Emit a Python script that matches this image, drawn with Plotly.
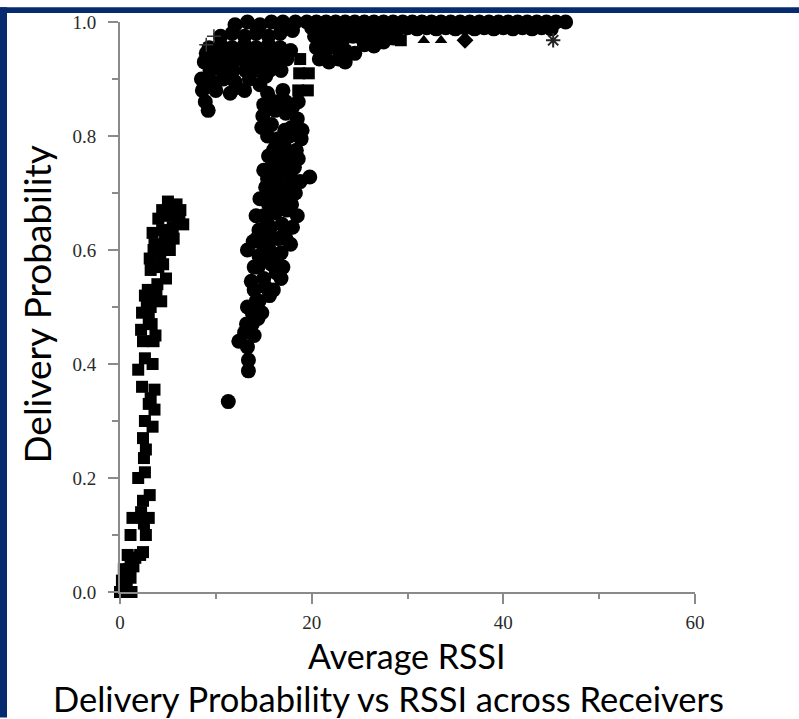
import plotly.graph_objects as go

# ---------------- data ----------------
# low-RSSI receivers (square markers)
sq_x = [0.0, 0.4, 0.8, 1.2, 0.2, 0.7, 1.1, 0.4, 0.9, 1.4, 1.1, 1.6, 2.1, 0.8, 2.4,
        1.1, 2.7, 2.5, 1.3, 2.2, 3.0, 2.4, 3.1, 1.9, 2.6, 2.5, 2.7, 2.4,
        2.6, 3.4, 3.0, 3.6, 2.3, 3.6, 3.2, 1.9, 2.6, 3.4, 2.4, 3.5, 2.2, 3.3,
        2.3, 3.2, 4.3, 2.6, 2.9, 3.9, 4.8, 3.2, 4.5, 3.1, 4.2, 5.2, 3.6, 4.7,
        3.4, 4.4, 5.5, 6.6, 4.0, 5.0, 6.0, 4.4, 5.4, 6.3, 5.0, 5.9,
        3.0, 3.8, 4.0, 3.5, 4.6, 5.6, 6.2, 2.8, 3.7,
        18.6, 19.6, 18.7, 19.7, 18.8, 27.8, 29.3]
sq_y = [0.0, 0.0, 0.0, 0.0, 0.02, 0.02, 0.025, 0.04, 0.04, 0.045, 0.06, 0.06, 0.065, 0.065, 0.07,
        0.10, 0.10, 0.12, 0.13, 0.14, 0.13, 0.16, 0.17, 0.20, 0.21, 0.235, 0.25, 0.27,
        0.30, 0.29, 0.33, 0.32, 0.36, 0.355, 0.34, 0.39, 0.41, 0.40, 0.44, 0.44, 0.46, 0.47,
        0.49, 0.50, 0.51, 0.52, 0.53, 0.54, 0.55, 0.565, 0.575, 0.585, 0.59, 0.60, 0.61, 0.62,
        0.63, 0.635, 0.64, 0.645, 0.655, 0.66, 0.66, 0.67, 0.675, 0.67, 0.685, 0.68,
        0.48, 0.52, 0.57, 0.60, 0.60, 0.62, 0.65, 0.51, 0.45,
        0.88, 0.88, 0.91, 0.91, 0.935, 0.975, 0.968]

# mid/high-RSSI receivers (circle markers)
ci_x = [11.3, 13.4, 13.4,
        12.4, 13.3, 13.0, 14.0, 13.2, 14.4, 13.8,
        13.3, 14.5, 15.6, 14.0, 15.2, 13.7, 15.0, 16.3, 14.4, 15.8, 17.0,
        13.3, 14.5, 15.6, 16.8, 17.8, 13.9, 15.2, 16.5,
        14.5, 15.7, 16.9, 18.0, 15.0, 16.2, 17.4, 18.5, 15.5, 16.8, 17.9,
        14.6, 15.8, 17.0, 18.3, 15.2, 16.5, 17.7,
        15.4, 16.6, 17.9, 19.8, 15.8, 17.0, 18.2, 16.2, 17.4, 18.6,
        16.0, 17.2, 18.4, 16.5, 17.7, 18.9,
        14.8, 15.8, 17.9, 18.5, 14.9, 16.2, 17.3,
        15.0, 16.2, 17.3, 15.4, 17.0,
        14.8, 16.0, 17.2, 15.3, 16.5, 14.2, 16.0, 14.0, 15.6,
        13.8, 14.8, 15.0, 16.2, 17.3, 14.2, 17.6, 16.0, 18.8, 15.0, 16.4, 17.5,
        15.4, 16.2, 17.2, 19.0, 15.5, 18.0, 18.6, 14.3, 16.8,
        9.2, 8.9, 8.6,
        8.5, 9.6, 10.8, 12.0, 13.5, 14.6, 10.0, 11.5, 13.0,
        8.8, 10.0, 11.2, 12.5, 13.8, 15.0, 16.2, 17.4,
        9.3, 10.5, 11.7, 13.0, 14.2, 15.5, 16.7, 17.8,
        10.5, 11.7, 13.0, 14.2, 15.5, 16.7, 18.0,
        12.0, 13.3, 14.6, 15.8, 17.0, 18.3, 19.5,
        9.4, 10.6, 11.8, 13.1, 14.4, 15.6, 16.8,
        9.0, 10.2, 11.4, 12.6, 13.8, 15.1, 16.3, 17.4, 12.2, 15.2,
        20.3, 21.3, 22.3, 23.3, 24.3, 25.3, 26.3, 27.2, 28.3,
        20.5, 21.5, 22.5, 23.5, 24.5, 25.5, 26.5, 27.5, 28.5,
        20.8, 21.8, 22.8, 23.5,
        20.5, 21.5, 22.5, 23.5, 24.5, 25.5, 26.5, 27.5, 28.5, 29.5, 30.5, 31.5, 32.5,
        33.5, 34.5, 35.5, 36.5, 37.5, 38.5, 39.5, 40.5, 41.5, 42.5, 43.5, 44.5, 45.5, 46.5,
        20.0, 21.0, 22.0, 23.0, 24.0, 25.0, 26.0, 27.0, 28.0, 29.0, 30.0, 31.0, 32.0,
        33.0, 34.0, 35.0, 36.0, 37.0, 38.0, 39.0, 40.0, 41.0, 42.0, 43.0, 44.0, 45.0, 46.0]
ci_y = [0.334, 0.388, 0.407,
        0.44, 0.43, 0.455, 0.45, 0.47, 0.48, 0.49,
        0.50, 0.51, 0.52, 0.53, 0.535, 0.545, 0.55, 0.56, 0.57, 0.575, 0.57,
        0.60, 0.59, 0.60, 0.595, 0.61, 0.615, 0.62, 0.62,
        0.635, 0.64, 0.645, 0.64, 0.66, 0.665, 0.67, 0.66, 0.68, 0.685, 0.68,
        0.69, 0.70, 0.695, 0.70, 0.71, 0.715, 0.71,
        0.725, 0.73, 0.725, 0.728, 0.745, 0.75, 0.745, 0.76, 0.765, 0.76,
        0.775, 0.78, 0.775, 0.795, 0.80, 0.795,
        0.815, 0.82, 0.815, 0.83, 0.835, 0.845, 0.84,
        0.855, 0.86, 0.86, 0.875, 0.88,
        0.58, 0.58, 0.63, 0.65, 0.70, 0.51, 0.53, 0.57, 0.62,
        0.47, 0.49, 0.60, 0.59, 0.62, 0.66, 0.69, 0.685, 0.72, 0.74, 0.74, 0.735,
        0.80, 0.78, 0.81, 0.81, 0.765, 0.85, 0.86, 0.62, 0.55,
        0.845, 0.86, 0.88,
        0.90, 0.895, 0.90, 0.895, 0.90, 0.89, 0.88, 0.875, 0.88,
        0.93, 0.935, 0.93, 0.935, 0.93, 0.935, 0.93, 0.935,
        0.955, 0.96, 0.955, 0.96, 0.955, 0.96, 0.955, 0.95,
        0.975, 0.98, 0.975, 0.98, 0.975, 0.98, 0.985,
        0.995, 1.0, 0.995, 1.0, 1.0, 1.0, 1.0,
        0.915, 0.915, 0.915, 0.915, 0.915, 0.915, 0.915,
        0.945, 0.945, 0.945, 0.945, 0.945, 0.945, 0.945, 0.945, 0.885, 0.905,
        0.975, 0.97, 0.975, 0.97, 0.975, 0.97, 0.975, 0.98, 0.985,
        0.955, 0.95, 0.955, 0.95, 0.945, 0.96, 0.958, 0.965, 0.972,
        0.935, 0.93, 0.935, 0.93,
        1.0, 1.0, 1.0, 1.0, 1.0, 1.0, 1.0, 1.0, 1.0, 1.0, 1.0, 1.0, 1.0,
        1.0, 1.0, 1.0, 1.0, 1.0, 1.0, 1.0, 1.0, 1.0, 1.0, 1.0, 1.0, 1.0, 1.0,
        0.99, 0.988, 0.99, 0.988, 0.99, 0.988, 0.99, 0.988, 0.99, 0.988, 0.99, 0.988, 0.99,
        0.988, 0.99, 0.988, 0.99, 0.988, 0.99, 0.988, 0.99, 0.988, 0.99, 0.988, 0.99, 0.988]

tri_x = [31.7, 33.5]
tri_y = [0.968, 0.968]
dia_x = [36.0]
dia_y = [0.968]
ast_x = [45.2]
ast_y = [0.968]
plus_x = [9.0, 9.8]
plus_y = [0.96, 0.975]

x_ticks = [0, 20, 40, 60]
x_tick_text = ["0", "20", "40", "60"]
y_ticks = [0.0, 0.2, 0.4, 0.6, 0.8, 1.0]
y_tick_text = ["0.0", "0.2", "0.4", "0.6", "0.8", "1.0"]

x_label = "Average RSSI"
y_label = "Delivery Probability"
title_text = "Delivery Probability vs RSSI across Receivers"

# ---------------- figure ----------------
W, H = 799, 719
L, R, T, B = 120, 104, 15, 127
PW, PH = W - L - R, H - T - B


def px(xp):
    return (xp - L) / PW


def py(yp):
    return (H - B - yp) / PH


NAVY = "#062b6f"
fig = go.Figure()
common = dict(mode="markers", cliponaxis=False, showlegend=False, hoverinfo="skip")
fig.add_trace(go.Scatter(x=sq_x, y=sq_y, marker=dict(symbol="square", size=12, color="black"), **common))
fig.add_trace(go.Scatter(x=ci_x, y=ci_y, marker=dict(symbol="circle", size=15, color="black"), **common))
fig.add_trace(go.Scatter(x=tri_x, y=tri_y, marker=dict(symbol="triangle-up", size=11, color="black"), **common))
fig.add_trace(go.Scatter(x=dia_x, y=dia_y, marker=dict(symbol="diamond", size=13, color="black"), **common))
fig.add_trace(go.Scatter(x=ast_x, y=ast_y, marker=dict(symbol="asterisk-open", size=12, color="#222",
                                                      line=dict(color="#222", width=2)), **common))
fig.add_trace(go.Scatter(x=plus_x, y=plus_y, marker=dict(symbol="cross-thin-open", size=10, color="#333",
                                                        line=dict(color="#333", width=1.5)), **common))

tickfont = dict(family="Liberation Serif", size=19, color="#2a2a2a")
axis_common = dict(showgrid=False, zeroline=False, showline=True, linecolor="#8a8a8a", linewidth=2,
                   ticks="outside", ticklen=10, tickwidth=1.5, tickcolor="#8a8a8a", tickfont=tickfont)
fig.update_xaxes(range=[0, 60], tickvals=x_ticks, ticktext=x_tick_text, ticklabelstandoff=2,
                 minor=dict(dtick=10, ticklen=5, ticks="outside", tickcolor="#8a8a8a", tickwidth=1.5),
                 **axis_common)
fig.update_yaxes(range=[0, 1], tickvals=y_ticks, ticktext=y_tick_text, ticklabelstandoff=8,
                 minor=dict(dtick=0.1, ticklen=6, ticks="outside", tickcolor="#8a8a8a", tickwidth=1.5),
                 **axis_common)

fig.add_annotation(text=x_label, xref="paper", yref="paper", x=px(406), y=py(656),
                   xanchor="center", yanchor="middle", showarrow=False,
                   font=dict(family="Lato", size=34, color="black"))
fig.add_annotation(text=title_text, xref="paper", yref="paper", x=px(388), y=py(700),
                   xanchor="center", yanchor="middle", showarrow=False,
                   font=dict(family="Lato", size=34.5, color="black"))
fig.add_annotation(text=y_label, xref="paper", yref="paper", x=px(37), y=py(301), textangle=-90,
                   xanchor="center", yanchor="middle", showarrow=False,
                   font=dict(family="Lato", size=37, color="black"))

# slide frame (navy bars top and left)
fig.add_shape(type="rect", xref="paper", yref="paper", x0=px(0), x1=px(W), y0=py(6), y1=py(0),
              fillcolor=NAVY, line=dict(width=0), layer="above")
fig.add_shape(type="rect", xref="paper", yref="paper", x0=px(0), x1=px(7), y0=py(H), y1=py(0),
              fillcolor=NAVY, line=dict(width=0), layer="above")

fig.update_layout(width=W, height=H, margin=dict(l=L, r=R, t=T, b=B),
                  paper_bgcolor="white", plot_bgcolor="white")
fig.write_html("out.html")
